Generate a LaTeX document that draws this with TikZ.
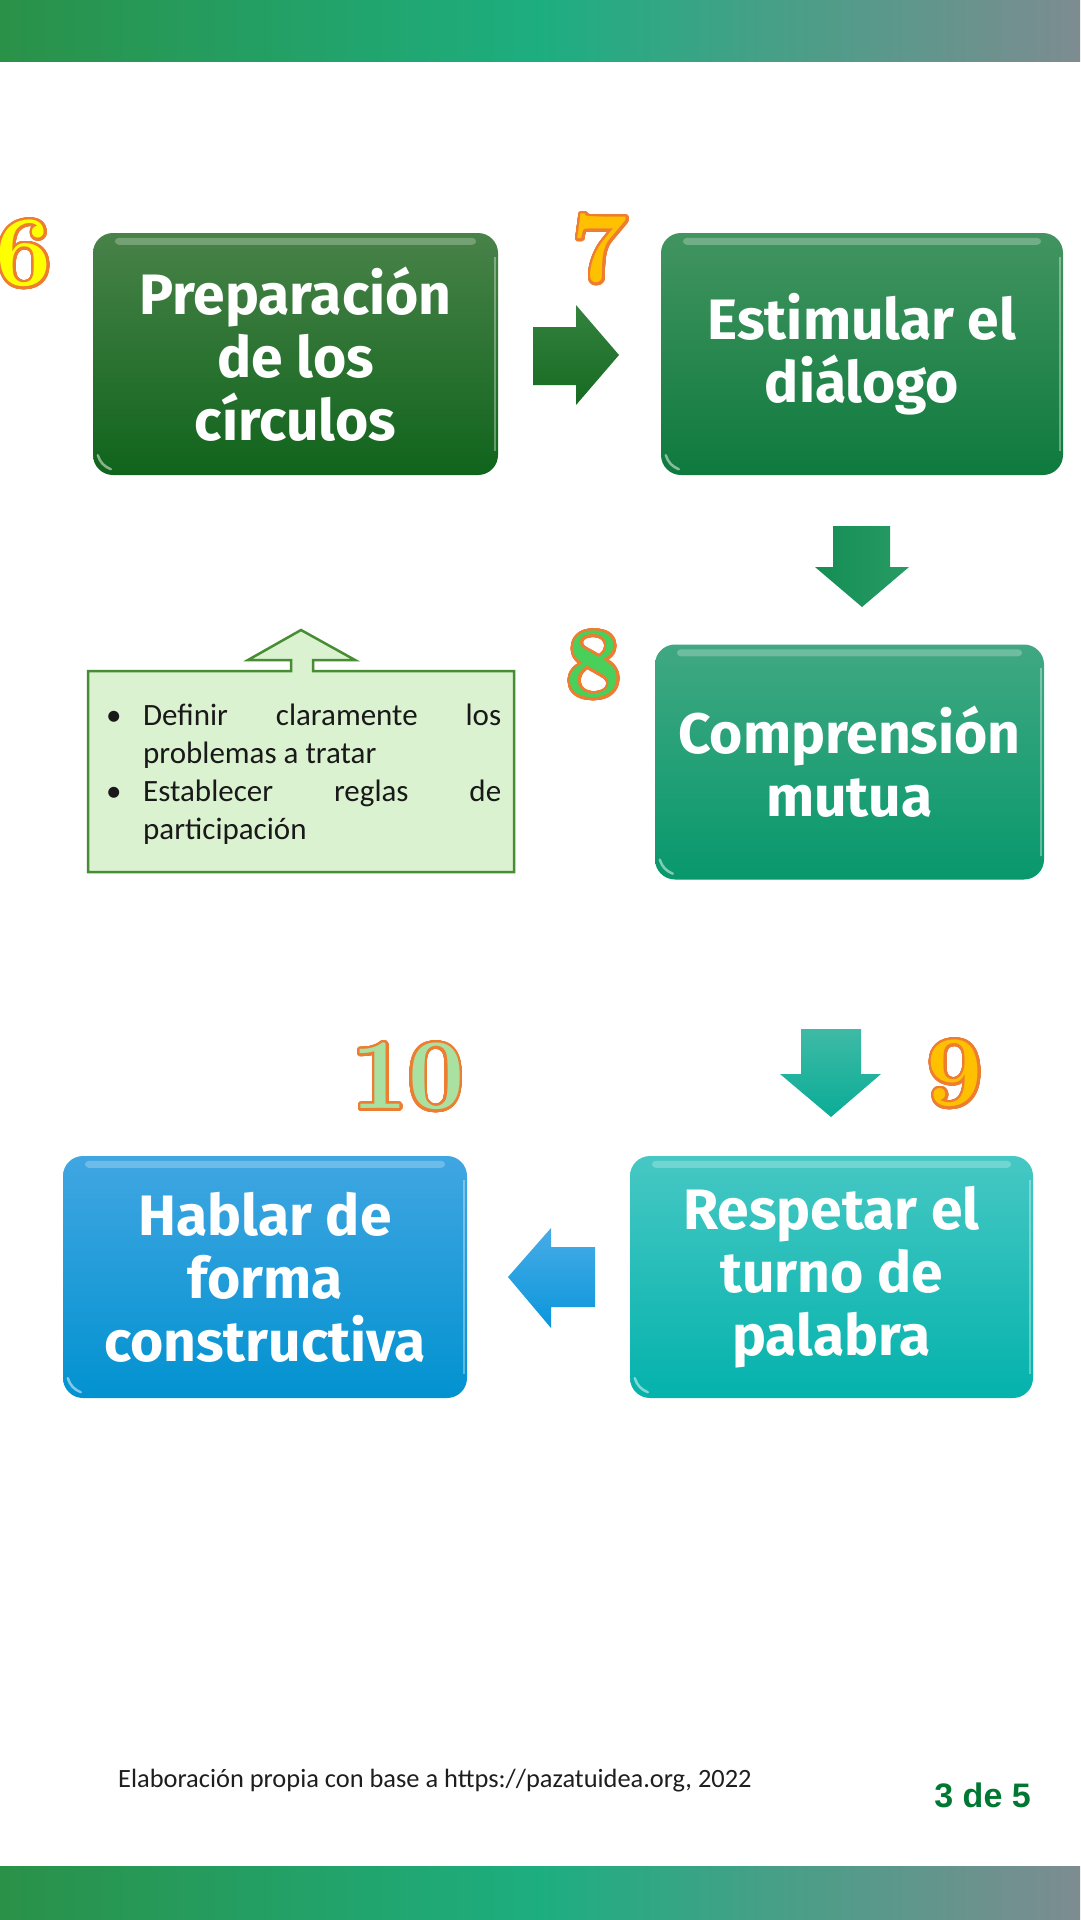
\documentclass[tikz,border=0pt]{standalone}
\usepackage{fontspec}
\usepackage{contour}
\contourlength{2.5pt}
\contournumber{48}
\newfontfamily\boxfont{Fira Sans}
\newfontfamily\notefont{Carlito}
\newfontfamily\pagefont{Liberation Sans}
\definecolor{barA}{RGB}{42,145,72}
\definecolor{barB}{RGB}{29,174,128}
\definecolor{barC}{RGB}{125,140,145}
\definecolor{bAtop}{RGB}{72,130,72}
\definecolor{bAbot}{RGB}{16,100,28}
\definecolor{bBtop}{RGB}{66,148,96}
\definecolor{bBbot}{RGB}{14,122,62}
\definecolor{bCtop}{RGB}{64,168,130}
\definecolor{bCbot}{RGB}{8,152,108}
\definecolor{bDtop}{RGB}{70,200,196}
\definecolor{bDbot}{RGB}{4,178,172}
\definecolor{bEtop}{RGB}{64,166,226}
\definecolor{bEbot}{RGB}{2,146,208}
\definecolor{numorange}{RGB}{237,125,49}
\definecolor{numyellow}{RGB}{255,255,0}
\definecolor{numgold}{RGB}{255,192,0}
\definecolor{numgreen}{RGB}{72,208,90}
\definecolor{numlight}{RGB}{170,225,160}
\definecolor{notefill}{RGB}{218,242,208}
\definecolor{noteline}{RGB}{72,140,52}
\definecolor{pagegreen}{RGB}{0,120,50}
\begin{document}
\begin{tikzpicture}[x=1pt,y=-1pt,
  stepbox/.style={rounded corners=20pt, inner sep=0pt, align=center, text=white,
    font=\boxfont\bfseries\fontsize{57}{63}\selectfont},
  numlabel/.style={inner sep=0pt, font=\bfseries\fontsize{100}{100}\selectfont},
  notebox/.style={fill=notefill, draw=noteline, line width=2.5pt, line join=miter},
  barshade/.style={left color=barA, right color=barC, middle color=barB}]
\useasboundingbox (0,0) rectangle (1080,1920);
\fill[white] (0,0) rectangle (1080,1920);
% bars
\shade[barshade] (0,0) rectangle (1080,61);
\shade[barshade] (0,1866) rectangle (1080,1920);

% step boxes
\node[stepbox, top color=bAtop, bottom color=bAbot, minimum width=405pt, minimum height=242pt] (b1) at (295.5,354) {Preparación\\de los\\círculos};
\node[stepbox, top color=bBtop, bottom color=bBbot, minimum width=402pt, minimum height=242pt] (b2) at (862,354) {Estimular el\\diálogo};
\node[stepbox, top color=bCtop, bottom color=bCbot, minimum width=389pt, minimum height=235pt] (b8) at (849.5,762) {Comprensión\\mutua};
\node[stepbox, top color=bDtop, bottom color=bDbot, minimum width=403pt, minimum height=242pt] (b9) at (831.5,1277) {Respetar el\\turno de\\palabra};
\node[stepbox, top color=bEtop, bottom color=bEbot, minimum width=404pt, minimum height=242pt] (b10) at (265,1277) {Hablar de\\forma\\constructiva};

\foreach \b in {b1,b2,b8,b9,b10}{
  \fill[white,opacity=.25,rounded corners=4pt] ([shift={(22,5)}]\b.north west) rectangle ([shift={(-22,12)}]\b.north east);
  \draw[white,opacity=.35,line width=2pt] ([shift={(-3,24)}]\b.north east) -- ([shift={(-3,-24)}]\b.south east);
  \draw[white,opacity=.5,line width=2.5pt,line cap=round] ([shift={(5,-20)}]\b.south west) to[bend right=25] ([shift={(18,-6)}]\b.south west);
}

% block arrows
\shade[top color={rgb,255:red,52;green,130;blue,62}, bottom color={rgb,255:red,22;green,106;blue,34}]
  (533,327) -- (576,327) -- (576,305) -- (619,355) -- (576,405) -- (576,385) -- (533,385) -- cycle;
\shade[left color={rgb,255:red,20;green,142;blue,84}, right color={rgb,255:red,40;green,155;blue,100}]
  (833,526) -- (890,526) -- (890,567) -- (909,567) -- (862,607) -- (815,567) -- (833,567) -- cycle;
\shade[top color={rgb,255:red,62;green,186;blue,166}, bottom color={rgb,255:red,10;green,172;blue,150}]
  (801,1029) -- (861,1029) -- (861,1074) -- (881,1074) -- (831,1117) -- (780,1074) -- (801,1074) -- cycle;
\shade[top color={rgb,255:red,72;green,172;blue,230}, bottom color={rgb,255:red,10;green,150;blue,220}]
  (595,1247) -- (551,1247) -- (551,1228) -- (508,1277) -- (551,1328) -- (551,1307) -- (595,1307) -- cycle;

% note callout
\draw[notebox] (88,671) -- (291,671) -- (291,660) -- (248,660) -- (301,630) -- (355,660) -- (313,660) -- (313,671) -- (514,671) -- (514,872) -- (88,872) -- cycle;
\node[anchor=base west, inner sep=0pt, text={rgb,255:red,25;green,25;blue,25}] (note) at (106,725)
  {\parbox[t]{400pt}{\notefont\fontsize{31}{38}\selectfont\raggedright
   \makebox[37pt][l]{•}\makebox[358pt][s]{Definir claramente los}\\
   \hspace*{37pt}problemas a tratar\\
   \makebox[37pt][l]{•}\makebox[358pt][s]{Establecer reglas de}\\
   \hspace*{37pt}participación}};

% numbers
\node[numlabel, text=numyellow] (n6) at (24,255) {\contour{numorange}{6}};
\node[numlabel, text=numgold] (n7) at (600,250) {\contour{numorange}{7}};
\node[numlabel, text=numgreen] (n8) at (594,666) {\contour{numorange}{8}};
\node[numlabel, text=numgold] (n9) at (955,1075) {\contour{numorange}{9}};
\node[numlabel, text=numlight] (n10) at (408,1078) {\contour{numorange}{10}};

% footer
\node[anchor=base west, inner sep=0pt, font=\notefont\fontsize{26.4}{30}\selectfont, text={rgb,255:red,30;green,30;blue,30}] (src) at (118,1787) {Elaboración propia con base a https://pazatuidea.org, 2022};
\node[anchor=base east, inner sep=0pt, font=\pagefont\bfseries\fontsize{34}{36}\selectfont, text=pagegreen] (page) at (1031,1807) {3 de 5};
\end{tikzpicture}
\end{document}
